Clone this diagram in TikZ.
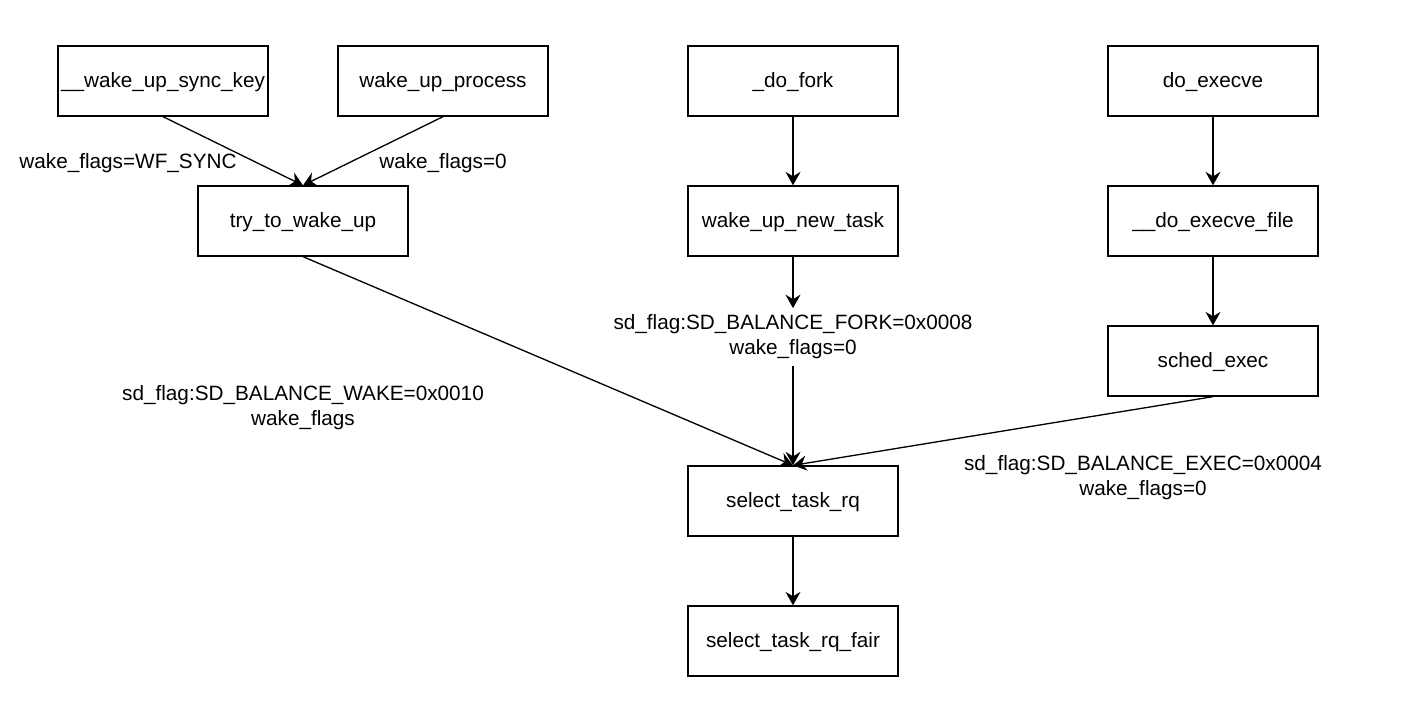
\documentclass[tikz,border=0pt]{standalone}
\usepackage{fontspec}
\setmainfont{Liberation Sans}
\usetikzlibrary{arrows.meta}

\begin{document}
\begin{tikzpicture}[x=0.02cm, y=-0.02cm,
  func/.style={draw, line width=0.75pt, minimum width=4.2cm, minimum height=1.4cm, inner sep=0pt, text height=0.7em, text depth=0pt, font=\fontsize{11.8}{14.2}\selectfont},
  lbl/.style={align=center, inner sep=1pt, font=\fontsize{11.8}{14.2}\selectfont},
  conn/.style={line width=0.75pt, -{Stealth[length=0.27cm, width=0.3cm, inset=0.09cm]}}]
\useasboundingbox (0,0) rectangle (1420,708);
% Boxes
\node[func] (synckey) at (163,81) {\_\_wake\_up\_sync\_key};
\node[func] (wakeproc) at (443,81) {wake\_up\_process};
\node[func] (dofork) at (793,81) {\_do\_fork};
\node[func] (doexecve) at (1213,81) {do\_execve};
\node[func] (trywake) at (303,221) {try\_to\_wake\_up};
\node[func] (newtask) at (793,221) {wake\_up\_new\_task};
\node[func] (execfile) at (1213,221) {\_\_do\_execve\_file};
\node[func] (schedexec) at (1213,361) {sched\_exec};
\node[func] (selrq) at (793,501) {select\_task\_rq};
\node[func] (selfair) at (793,641) {select\_task\_rq\_fair};
% Labels
\node[lbl] (syncl) at (128,163) {wake\_flags=WF\_SYNC};
\node[lbl] (procl) at (443,163) {wake\_flags=0};
\node[lbl, inner sep=0pt, minimum height=1.14cm] (forkl) at (793,337) {sd\_flag:SD\_BALANCE\_FORK=0x0008\\wake\_flags=0};
\node[lbl] (wakel) at (303,408) {sd\_flag:SD\_BALANCE\_WAKE=0x0010\\wake\_flags};
\node[lbl] (execl) at (1143,478) {sd\_flag:SD\_BALANCE\_EXEC=0x0004\\wake\_flags=0};
% Arrows
\draw[conn] (synckey.south) -- (trywake.north);
\draw[conn] (wakeproc.south) -- (trywake.north);
\draw[conn] (dofork) -- (newtask);
\draw[conn] (newtask.south) -- (forkl.north);
\draw[conn] (forkl.south) -- (selrq.north);
\draw[conn] (trywake.south) -- (selrq.north);
\draw[conn] (schedexec.south) -- (selrq.north);
\draw[conn] (doexecve) -- (execfile);
\draw[conn] (execfile) -- (schedexec);
\draw[conn] (selrq) -- (selfair);
\end{tikzpicture}
\end{document}
